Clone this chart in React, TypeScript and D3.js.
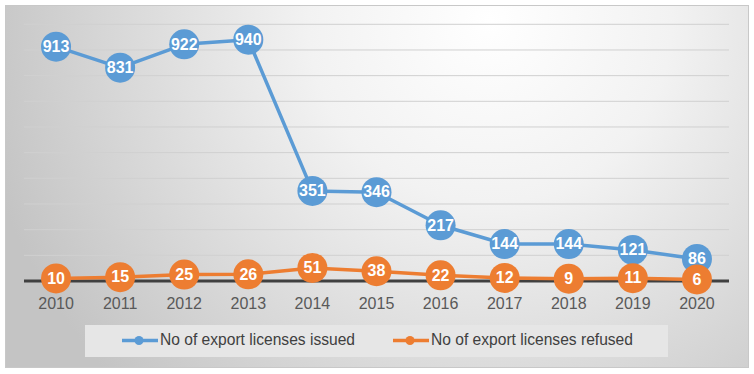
import React from "react";
import * as d3 from "d3";

const years = ["2010","2011","2012","2013","2014","2015","2016","2017","2018","2019","2020"];
const issued = [913, 831, 922, 940, 351, 346, 217, 144, 144, 121, 86];
const refused = [10, 15, 25, 26, 51, 38, 22, 12, 9, 11, 6];
const seriesNames = ["No of export licenses issued", "No of export licenses refused"];
const colors = ["#5B9BD5", "#ED7D31"];
const yTicks = [0,100,200,300,400,500,600,700,800,900,1000];

const W = 754, H = 374;
const plot = { left: 24, right: 729, top: 24.3, bottom: 281 };

export default function App() {
  const x = d3.scaleBand<string>().domain(years).range([plot.left, plot.right]);
  const y = d3.scaleLinear().domain([0, 1000]).range([plot.bottom, plot.top]);
  const cx = (yr: string) => (x(yr) as number) + x.bandwidth() / 2;
  const line = d3.line<number>().x((_, i) => cx(years[i])).y(d => y(d));
  const font = "'Liberation Sans', Arial, sans-serif";
  const series = [issued, refused];

  return (
    <svg width={W} height={H} style={{ position: "absolute", left: 0, top: 0, background: "#fff" }}>
      <defs>
        <radialGradient id="bg" gradientUnits="userSpaceOnUse" cx={490} cy={20} r={520} fx={490} fy={20}>
          <stop offset="0" stopColor="#ffffff" />
          <stop offset="0.35" stopColor="#f2f2f2" />
          <stop offset="1" stopColor="#c4c4c4" />
        </radialGradient>
      </defs>
      <rect x={5.5} y={5.5} width={743} height={362} fill="url(#bg)" stroke="#c8c8c8" strokeWidth={1} />
      {yTicks.filter(t => t > 0).map(t => (
        <line key={t} x1={plot.left} x2={plot.right} y1={y(t)} y2={y(t)} stroke="#d0d0d0" strokeWidth={1} />
      ))}
      <line x1={plot.left} x2={plot.right} y1={y(0)} y2={y(0)} stroke="#404040" strokeWidth={3} />
      {years.map(yr => (
        <text key={yr} x={cx(yr)} y={305} textAnchor="middle" dominantBaseline="middle"
          fontFamily={font} fontSize={16} fill="#595959">{yr}</text>
      ))}
      {series.map((s, si) => (
        <g key={si}>
          <path d={line(s) || ""} fill="none" stroke={colors[si]} strokeWidth={3.5} strokeLinejoin="round" />
        </g>
      ))}
      {series.map((s, si) => (
        <g key={"m" + si}>
          {s.map((v, i) => (
            <g key={i}>
              <circle cx={cx(years[i])} cy={y(v)} r={15} fill={colors[si]} />
              <text x={cx(years[i])} y={y(v) + 1} textAnchor="middle" dominantBaseline="middle"
                fontFamily={font} fontWeight="bold" fontSize={16} fill="#fff">{v}</text>
            </g>
          ))}
        </g>
      ))}
      <rect x={85} y={325} width={583} height={32} fill="#e6e6e6" />
      {seriesNames.map((n, i) => {
        const x0 = i === 0 ? 122 : 393;
        return (
          <g key={n}>
            <line x1={x0} x2={x0 + 36} y1={340.5} y2={340.5} stroke={colors[i]} strokeWidth={3.5} />
            <circle cx={x0 + 17} cy={340.5} r={4.5} fill={colors[i]} />
            <text x={x0 + 38} y={341} dominantBaseline="middle" fontFamily={font} fontSize={15.6} fill="#404040">{n}</text>
          </g>
        );
      })}
    </svg>
  );
}
